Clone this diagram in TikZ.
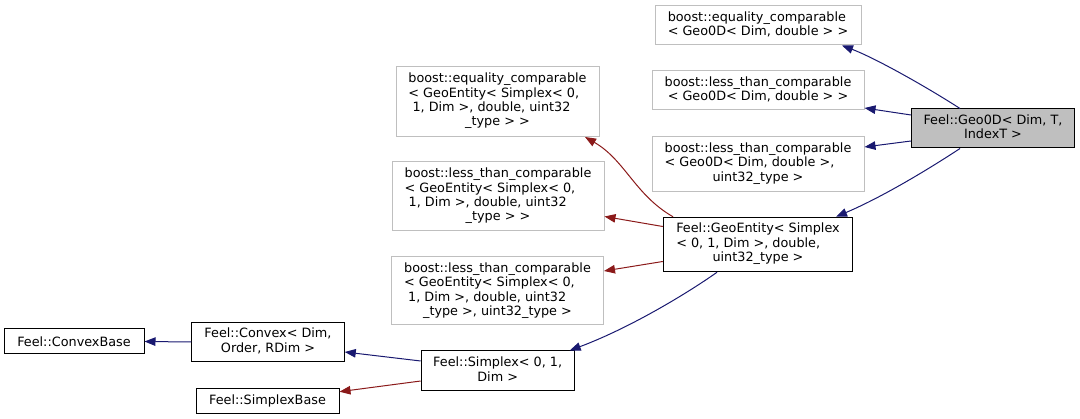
\documentclass[tikz,border=0pt]{standalone}
\usepackage{fontspec}
\setmainfont{DejaVu Sans}
\usetikzlibrary{arrows.meta}
\definecolor{edgeblue}{RGB}{25,25,112}
\definecolor{edgered}{RGB}{139,26,26}
\definecolor{boxgray}{RGB}{191,191,191}
\newcommand\fs{\fontsize{12.8}{14.4}\selectfont}
\newcommand\cl[1]{\multicolumn{1}{@{}c@{}}{#1}}
\newcommand\tb[1]{\begin{tabular}{@{}l@{}}#1\end{tabular}}
\tikzset{
  box/.style={draw=black, line width=1pt, inner sep=0pt, font=\fs, fill=white, text=black},
  gbox/.style={box, draw=boxgray},
  pub/.style={draw=edgeblue, line width=1pt, -{Triangle[length=11pt,width=8.5pt]}},
  prot/.style={pub, draw=edgered},
}
\begin{document}
\begin{tikzpicture}[x=1pt,y=-1pt]
\useasboundingbox (0,0) rectangle (1080,419);
% nodes
\node[gbox, minimum width=206pt, minimum height=39pt] (eq0) at (758,25.5)
  {\tb{boost::equality\_comparable\\ \cl{< Geo0D< Dim, double > >}}};
\node[gbox, minimum width=212pt, minimum height=39pt] (lt0) at (758,90.5)
  {\tb{boost::less\_than\_comparable\\ \cl{< Geo0D< Dim, double > >}}};
\node[gbox, minimum width=212pt, minimum height=55pt] (lt0b) at (758,164)
  {\tb{boost::less\_than\_comparable\\ < Geo0D< Dim, double >,\\ \cl{uint32\_type >}}};
\node[box, fill=boxgray, minimum width=163pt, minimum height=39pt] (geo0d) at (993,128.5)
  {\tb{Feel::Geo0D< Dim, T,\\ \cl{IndexT >}}};
\node[gbox, minimum width=203pt, minimum height=70pt] (eqE) at (497.5,101.5)
  {\tb{boost::equality\_comparable\\ < GeoEntity< Simplex< 0,\\ \ 1, Dim >, double, uint32\\ \cl{\_type > >}}};
\node[gbox, minimum width=212pt, minimum height=69pt] (ltE) at (498,196.5)
  {\tb{boost::less\_than\_comparable\\ < GeoEntity< Simplex< 0,\\ \ 1, Dim >, double, uint32\\ \cl{\_type > >}}};
\node[gbox, minimum width=212pt, minimum height=68pt] (ltEb) at (497.5,291)
  {\tb{boost::less\_than\_comparable\\ < GeoEntity< Simplex< 0,\\ \ 1, Dim >, double, uint32\\ \cl{\_type >, uint32\_type >}}};
\node[box, minimum width=189.5pt, minimum height=54.5pt] (geoE) at (758,244.5)
  {\tb{Feel::GeoEntity< Simplex\\ < 0, 1, Dim >, double,\\ \cl{uint32\_type >}}};
\node[box, minimum width=140pt, minimum height=25pt] (convB) at (74,341.5)
  {Feel::ConvexBase};
\node[box, minimum width=152.5pt, minimum height=39.5pt] (convex) at (268,342)
  {\tb{Feel::Convex< Dim,\\ \cl{Order, RDim >}}};
\node[box, minimum width=153pt, minimum height=40pt] (simplex) at (497.7,371)
  {\tb{Feel::Simplex< 0, 1,\\ \cl{Dim >}}};
\node[box, minimum width=143pt, minimum height=25pt] (simplexB) at (267.5,400.7)
  {Feel::SimplexBase};
% edges
\draw[pub] ([xshift=-33pt]geo0d.north) .. controls (925,86) and (875,58) .. ([xshift=84pt]eq0.south);
\draw[pub] ([yshift=13.5pt]geo0d.west) -- ([yshift=-17.5pt]lt0.east);
\draw[pub] ([yshift=-12.5pt]geo0d.west) -- ([yshift=17pt]lt0b.east);
\draw[pub] ([xshift=-33pt]geo0d.south) .. controls (935,165) and (885,196) .. ([xshift=78pt]geoE.north);
\draw[prot] ([xshift=-85pt]geoE.north) .. controls (635,195) and (625,160) .. ([xshift=87.5pt]eqE.south);
\draw[prot] ([yshift=18pt]geoE.west) -- ([yshift=-20pt]ltE.east);
\draw[prot] ([yshift=-17pt]geoE.west) -- ([yshift=20pt]ltEb.east);
\draw[pub] ([xshift=-41pt]geoE.south) .. controls (695,288) and (635,326) .. ([xshift=72pt]simplex.north);
\draw[pub] ([yshift=10pt]simplex.west) -- ([yshift=-10pt]convex.east);
\draw[pub] (convex.west) -- (convB.east);
\draw[prot] ([yshift=-10pt]simplex.west) -- ([yshift=9pt]simplexB.east);
\end{tikzpicture}
\end{document}
